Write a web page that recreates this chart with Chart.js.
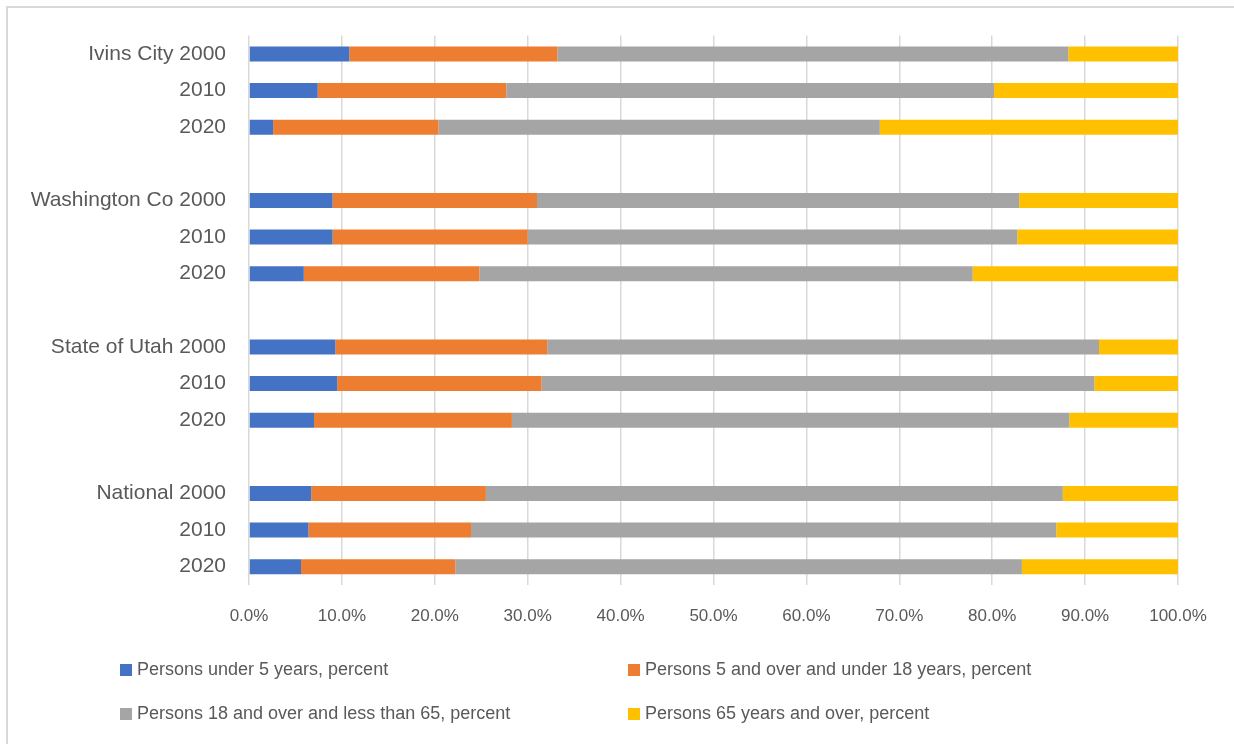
<!DOCTYPE html>
<html>
<head>
<meta charset="utf-8">
<script src="https://cdn.jsdelivr.net/npm/chart.js@4.4.0/dist/chart.umd.min.js"></script>
<style>
  body { margin: 0; background: #fff; }
  #wrap { position: relative; width: 1234px; height: 744px; overflow: hidden; }
  #chart { position: absolute; left: 0; top: 0; width: 1234px; height: 744px; }
  #frame { position: absolute; left: 6px; top: 6px; width: 1300px; height: 800px;
           border-left: 2px solid #d9d9d9; border-top: 2px solid #d9d9d9; }
  #legend { position: absolute; left: 0; top: 0; width: 1234px; height: 744px; pointer-events: none;
            font-family: "Liberation Sans", Arial, sans-serif; font-size: 18px; color: #595959; }
  .item { position: absolute; white-space: nowrap; line-height: 20px; }
  .box { display: inline-block; width: 12px; height: 12px; margin-right: 5px; vertical-align: -1px; }
</style>
</head>
<body>
<div id="wrap">
  <div id="frame"></div>
  <canvas id="chart" width="1234" height="744"></canvas>
  <div id="legend"></div>
</div>
<script>
const categories = [
  'Ivins City 2000', '2010', '2020', '',
  'Washington Co 2000', '2010', '2020', '',
  'State of Utah 2000', '2010', '2020', '',
  'National 2000', '2010', '2020'
];
// blank rows (gaps between groups) are null
const under5 =  [10.8, 7.4, 2.6, null, 9.0, 9.0, 5.9, null, 9.3, 9.5, 7.0, null, 6.7, 6.4, 5.6];
const age5to18 = [22.4, 20.3, 17.8, null, 22.0, 21.0, 18.9, null, 22.8, 22.0, 21.3, null, 18.8, 17.5, 16.6];
const age18to65 = [55.0, 52.5, 47.5, null, 51.9, 52.7, 53.1, null, 59.4, 59.5, 60.0, null, 62.1, 63.0, 61.0];
const over65 =  [11.8, 19.8, 32.1, null, 17.1, 17.3, 22.1, null, 8.5, 9.0, 11.7, null, 12.4, 13.1, 16.8];

const seriesNames = [
  'Persons under 5 years, percent',
  'Persons 5 and over and under 18 years, percent',
  'Persons 18 and over and less than 65, percent',
  'Persons 65 years and over, percent'
];
const seriesColors = ['#4472C4', '#ED7D31', '#A5A5A5', '#FFC000'];
const seriesData = [under5, age5to18, age18to65, over65];

const ctx = document.getElementById('chart').getContext('2d');
const chart = new Chart(ctx, {
  type: 'bar',
  data: {
    labels: categories,
    datasets: seriesData.map((d, i) => ({
      label: seriesNames[i],
      data: d,
      backgroundColor: seriesColors[i],
      borderWidth: 0,
      barPercentage: 0.82,
      categoryPercentage: 0.5
    }))
  },
  options: {
    indexAxis: 'y',
    responsive: false,
    animation: false,
    layout: { padding: { left: 7, right: 56, top: 35, bottom: 109 } },
    plugins: { legend: { display: false }, tooltip: { enabled: false } },
    scales: {
      x: {
        stacked: true,
        min: 0,
        max: 100,
        ticks: {
          stepSize: 10,
          padding: 21,
          color: '#595959',
          font: { family: 'Liberation Sans', size: 17 },
          callback: v => v.toFixed(1) + '%'
        },
        grid: { color: '#d9d9d9', lineWidth: 1.5, drawTicks: false },
        border: { display: false },
        afterFit: s => { s.height = 50; }
      },
      y: {
        stacked: true,
        ticks: {
          autoSkip: false,
          padding: 23,
          color: '#595959',
          font: { family: 'Liberation Sans', size: 21 }
        },
        grid: { display: false, drawTicks: false },
        border: { display: false },
        afterFit: s => { s.width = 242; }
      }
    }
  }
});

// legend in two columns, like the original
const legendPos = [[120, 659], [628, 659], [120, 703], [628, 703]];
const legend = document.getElementById('legend');
seriesNames.forEach((name, i) => {
  const el = document.createElement('div');
  el.className = 'item';
  el.style.left = legendPos[i][0] + 'px';
  el.style.top = legendPos[i][1] + 'px';
  el.innerHTML = '<span class="box" style="background:' + seriesColors[i] + '"></span>' + name;
  legend.appendChild(el);
});
</script>
</body>
</html>
